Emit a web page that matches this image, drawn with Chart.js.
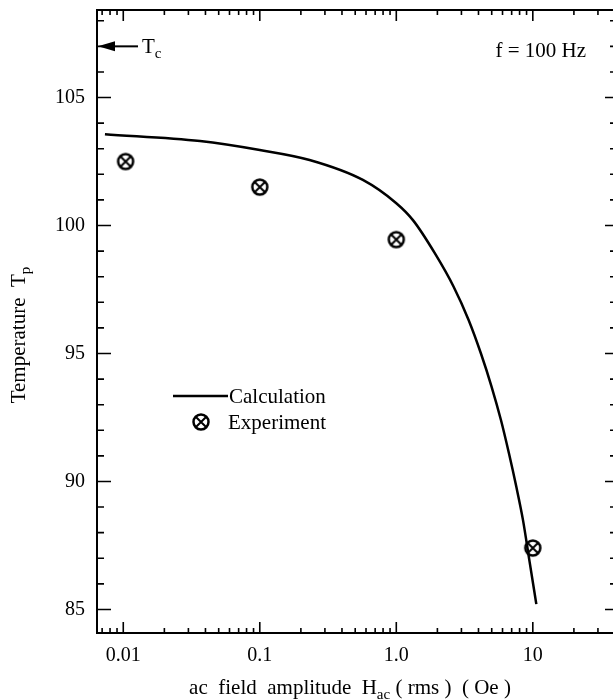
<!DOCTYPE html>
<html><head><meta charset="utf-8">
<script src="https://cdn.jsdelivr.net/npm/chart.js@4/dist/chart.umd.min.js"></script>
<style>html,body{margin:0;padding:0;background:#fff;overflow:hidden}#wrap{position:relative;width:616px;height:700px}</style>
</head><body><div id="wrap"><canvas id="c" width="616" height="700"></canvas></div>
<script>
// ---- data ----
const calcField = [0.00734, 0.0365, 0.1, 0.2316, 0.569, 1.0, 1.324, 1.919, 2.630, 3.386, 4.169, 4.991, 5.842, 6.685, 7.566, 8.468, 9.475, 10.61];
const calcTemp  = [103.57, 103.30, 102.95, 102.56, 101.78, 100.87, 100.21, 98.91, 97.61, 96.31, 95.0, 93.70, 92.40, 91.10, 89.80, 88.50, 86.86, 85.21];
const expField = [0.0104, 0.1, 1.0, 10.0];
const expTemp  = [102.5, 101.5, 99.45, 87.4];
const xMajorTicks = [0.01, 0.1, 1, 10];
const xTickLabels = ['0.01', '0.1', '1.0', '10'];
const xMinorTicks = [0.007, 0.008, 0.009, 0.02, 0.03, 0.04, 0.05, 0.06, 0.07, 0.08, 0.09,
  0.2, 0.3, 0.4, 0.5, 0.6, 0.7, 0.8, 0.9, 2, 3, 4, 5, 6, 7, 8, 9, 20, 30];
const yMajorTicks = [85, 90, 95, 100, 105];
const yMinorTicks = [86, 87, 88, 89, 91, 92, 93, 94, 96, 97, 98, 99, 101, 102, 103, 104, 106, 107, 108];
const tcValue = 107.0;
const freqLabel = 'f = 100 Hz';
const seriesNames = ['Calculation', 'Experiment'];

const FONT = '"Liberation Serif", "Times New Roman", serif';
const FS = 21;
const TICK_FS = 20;

// marker: circle with X
function makeMarker(){
  const m = document.createElement('canvas');
  m.width = 20; m.height = 20;
  const g = m.getContext('2d');
  g.strokeStyle = '#000'; g.lineWidth = 2.5;
  g.beginPath(); g.arc(10, 10, 7.5, 0, Math.PI*2); g.stroke();
  const d = 7.5 * Math.SQRT1_2;
  g.lineWidth = 2;
  g.beginPath(); g.moveTo(10-d, 10-d); g.lineTo(10+d, 10+d); g.moveTo(10+d, 10-d); g.lineTo(10-d, 10+d); g.stroke();
  return m;
}
const marker = makeMarker();

function drawRich(ctx, parts, x, y, align){
  let w = 0;
  const sizes = parts.map(p => {
    ctx.font = (p.sub ? Math.round(FS*0.72) : FS) + 'px ' + FONT;
    const mw = ctx.measureText(p.t).width; w += mw; return mw;
  });
  let cx = align === 'center' ? x - w/2 : (align === 'right' ? x - w : x);
  parts.forEach((p, i) => {
    ctx.font = (p.sub ? Math.round(FS*0.72) : FS) + 'px ' + FONT;
    ctx.fillText(p.t, cx, y + (p.sub ? 5 : 0));
    cx += sizes[i];
  });
}

const framePlugin = {
  id: 'frame',
  afterDraw(chart){
    const {ctx, chartArea: a, scales: {x, y}} = chart;
    ctx.save();
    ctx.strokeStyle = '#000'; ctx.fillStyle = '#000';
    ctx.lineWidth = 2;
    ctx.strokeRect(a.left, a.top, a.right - a.left, a.bottom - a.top);
    ctx.lineWidth = 1.6;
    ctx.beginPath();
    const xt = (v, len) => { const px = x.getPixelForValue(v);
      ctx.moveTo(px, a.bottom); ctx.lineTo(px, a.bottom - len);
      ctx.moveTo(px, a.top); ctx.lineTo(px, a.top + len); };
    xMajorTicks.forEach(v => xt(v, 11));
    xMinorTicks.forEach(v => xt(v, 5));
    const yt = (v, len, lenR) => { const py = y.getPixelForValue(v);
      ctx.moveTo(a.left, py); ctx.lineTo(a.left + len, py);
      ctx.moveTo(a.right, py); ctx.lineTo(a.right - lenR, py); };
    yMajorTicks.forEach(v => yt(v, 14, 10));
    yMinorTicks.forEach(v => yt(v, 7, 5));
    ctx.stroke();

    // Tc arrow
    const ty = y.getPixelForValue(tcValue);
    ctx.lineWidth = 2;
    ctx.beginPath(); ctx.moveTo(a.left + 41, ty); ctx.lineTo(a.left + 10, ty); ctx.stroke();
    ctx.beginPath(); ctx.moveTo(a.left + 1, ty); ctx.lineTo(a.left + 18, ty - 5); ctx.lineTo(a.left + 18, ty + 5); ctx.closePath(); ctx.fill();
    ctx.textBaseline = 'alphabetic';
    drawRich(ctx, [{t:'T'}, {t:'c', sub:true}], a.left + 45, ty + 7, 'left');

    // frequency label
    drawRich(ctx, [{t:freqLabel}], 586, 57, 'right');

    // legend
    ctx.lineWidth = 2.5;
    ctx.beginPath(); ctx.moveTo(173, 396); ctx.lineTo(228, 396); ctx.stroke();
    drawRich(ctx, [{t:seriesNames[0]}], 229, 403, 'left');
    ctx.drawImage(marker, 191, 412);
    drawRich(ctx, [{t:seriesNames[1]}], 228, 429, 'left');

    // axis titles
    drawRich(ctx, [{t:'ac  field  amplitude  H'}, {t:'ac', sub:true}, {t:' ( rms )  ( Oe )'}], 350, 694, 'center');
    ctx.translate(25, 335); ctx.rotate(-Math.PI/2);
    drawRich(ctx, [{t:'Temperature  T'}, {t:'p', sub:true}], 0, 0, 'center');
    ctx.restore();
  }
};

new Chart(document.getElementById('c'), {
  data: {
    datasets: [
      { type: 'line', label: seriesNames[0],
        data: calcField.map((v, i) => ({x: v, y: calcTemp[i]})),
        borderColor: '#000', borderWidth: 2.5, pointRadius: 0, cubicInterpolationMode: 'monotone', fill: false },
      { type: 'scatter', label: seriesNames[1],
        data: expField.map((v, i) => ({x: v, y: expTemp[i]})),
        pointStyle: marker, pointRadius: 9, borderColor: '#000', backgroundColor: '#000' }
    ]
  },
  options: {
    responsive: false, animation: false, devicePixelRatio: 1,
    layout: { autoPadding: false, padding: { top: 10, right: 1, left: 0, bottom: 0 } },
    plugins: { legend: { display: false }, tooltip: { enabled: false } },
    scales: {
      x: { type: 'logarithmic', min: 0.00642, max: 40,
        afterBuildTicks: s => { s.ticks = xMajorTicks.map(v => ({value: v})); },
        afterFit: s => { s.height = 67; s.paddingLeft = 0; s.paddingRight = 0; },
        ticks: { callback: (v, i) => xTickLabels[i], color: '#000', padding: 3, maxRotation: 0, autoSkip: false,
          font: { family: FONT, size: TICK_FS } },
        grid: { display: false }, border: { display: false } },
      y: { type: 'linear', min: 84.08, max: 108.42,
        afterBuildTicks: s => { s.ticks = yMajorTicks.map(v => ({value: v})); },
        afterFit: s => { s.width = 97; s.paddingTop = 0; s.paddingBottom = 0; },
        ticks: { callback: v => String(v), color: '#000', padding: 4,
          font: { family: FONT, size: TICK_FS } },
        grid: { display: false }, border: { display: false } }
    }
  },
  plugins: [framePlugin]
});
</script></body></html>
